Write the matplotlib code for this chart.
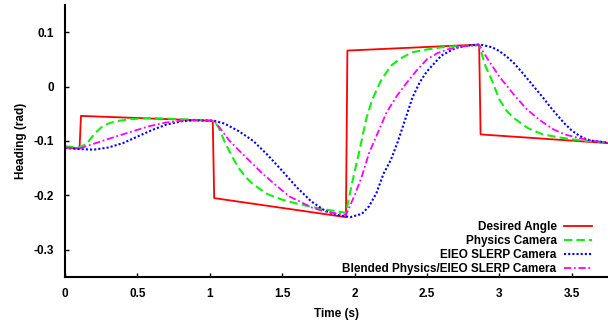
import matplotlib
matplotlib.use("Agg")
import matplotlib.pyplot as plt

# Desired angle (piecewise)
t_desired = [0, 0.1, 0.11, 1.02, 1.03, 1.94, 1.95, 2.86, 2.87, 3.75]
y_desired = [-0.112, -0.114, -0.054, -0.063, -0.205, -0.24, 0.066, 0.077, -0.088, -0.104]

# Physics camera
t_physics = [0, 0.1, 0.15, 0.2, 0.25, 0.3, 0.35, 0.45, 0.6, 0.8, 1.03, 1.06, 1.1, 1.15,
             1.2, 1.25, 1.3, 1.4, 1.5, 1.6, 1.7, 1.8, 1.94, 1.98, 2.03, 2.08, 2.12, 2.18,
             2.25, 2.32, 2.4, 2.5, 2.6, 2.7, 2.86, 2.9, 2.95, 3.0, 3.05, 3.1, 3.2, 3.3,
             3.4, 3.5, 3.6, 3.75]
y_physics = [-0.11, -0.112, -0.105, -0.088, -0.075, -0.068, -0.064, -0.06, -0.058, -0.06,
             -0.063, -0.075, -0.1, -0.127, -0.15, -0.167, -0.18, -0.198, -0.208, -0.215,
             -0.221, -0.226, -0.232, -0.18, -0.122, -0.06, -0.025, 0.01, 0.038, 0.052,
             0.063, 0.068, 0.072, 0.074, 0.076, 0.04, 0.01, -0.024, -0.045, -0.058,
             -0.077, -0.088, -0.093, -0.097, -0.1, -0.103]

# EIEO SLERP camera
t_slerp = [0, 0.1, 0.2, 0.3, 0.4, 0.5, 0.6, 0.7, 0.8, 0.9, 1.03, 1.1, 1.2, 1.3, 1.4, 1.5,
           1.6, 1.7, 1.8, 1.9, 1.97, 2.05, 2.1, 2.15, 2.2, 2.25, 2.3, 2.35, 2.4, 2.45, 2.5,
           2.6, 2.7, 2.8, 2.87, 2.95, 3.0, 3.05, 3.1, 3.15, 3.2, 3.25, 3.3, 3.35, 3.4,
           3.45, 3.5, 3.55, 3.6, 3.65, 3.75]
y_slerp = [-0.113, -0.115, -0.116, -0.112, -0.104, -0.092, -0.08, -0.07, -0.064, -0.062,
           -0.063, -0.068, -0.082, -0.1, -0.126, -0.155, -0.185, -0.211, -0.229, -0.237,
           -0.24, -0.234, -0.22, -0.196, -0.16, -0.135, -0.1, -0.06, -0.02, 0.008, 0.028,
           0.057, 0.071, 0.076, 0.077, 0.072, 0.065, 0.055, 0.043, 0.028, 0.012, -0.004,
           -0.02, -0.037, -0.053, -0.068, -0.081, -0.09, -0.097, -0.1, -0.103]

# Blended physics / EIEO SLERP camera
t_blend = [0, 0.1, 0.2, 0.35, 0.58, 0.7, 0.85, 1.03, 1.08, 1.13, 1.2, 1.36, 1.45, 1.55,
           1.71, 1.8, 1.94, 2.0, 2.05, 2.1, 2.16, 2.22, 2.29, 2.36, 2.43, 2.5, 2.57, 2.64,
           2.75, 2.86, 2.92, 3.0, 3.1, 3.19, 3.28, 3.375, 3.45, 3.54, 3.65, 3.75]
y_blend = [-0.112, -0.114, -0.105, -0.092, -0.073, -0.066, -0.062, -0.063, -0.08, -0.098,
           -0.117, -0.159, -0.18, -0.202, -0.223, -0.23, -0.236, -0.2, -0.165, -0.122,
           -0.085, -0.048, -0.018, 0.007, 0.03, 0.05, 0.061, 0.068, 0.074, 0.076, 0.05,
           0.018, -0.015, -0.042, -0.062, -0.079, -0.088, -0.094, -0.1, -0.103]

plt.rcParams["font.family"] = "Liberation Sans"
plt.rcParams["font.weight"] = "bold"
font_s = 8.5

fig = plt.figure(figsize=(6.08, 3.24), dpi=100)
ax = fig.add_axes([0.107, 0.145, 0.893, 0.84])

ax.plot(t_desired, y_desired, color="#ff0000", linewidth=1.3, label="Desired Angle")
ax.plot(t_physics, y_physics, color="#11ee11", linewidth=1.5, linestyle=(0, (4, 2)),
        label="Physics Camera")
ax.plot(t_slerp, y_slerp, color="#0000ff", linewidth=1.5, linestyle=(0, (1, 1)),
        label="EIEO SLERP Camera")
ax.plot(t_blend, y_blend, color="#ff00ff", linewidth=1.3, linestyle=(0, (4, 1.5, 1, 1.5)),
        label="Blended Physics/EIEO SLERP Camera")

ax.set_xlim(0, 3.75)
ax.set_ylim(-0.35, 0.15)
ax.set_xticks([0, 0.5, 1, 1.5, 2, 2.5, 3, 3.5])
ax.set_xticklabels(["0", "0.5", "1", "1.5", "2", "2.5", "3", "3.5"])
ax.set_yticks([-0.3, -0.2, -0.1, 0, 0.1])
ax.set_yticklabels(["-0.3", "-0.2", "-0.1", "0", "0.1"])
ax.spines["top"].set_visible(False)
ax.spines["right"].set_visible(False)
ax.spines["left"].set_linewidth(1.5)
ax.spines["bottom"].set_linewidth(1.5)
ax.tick_params(direction="in", length=3, width=1, labelsize=font_s, pad=8)
for lbl in ax.get_xticklabels() + ax.get_yticklabels():
    lbl.set_fontweight("bold")

ax.set_xlabel("Time (s)", fontsize=font_s, fontweight="bold", labelpad=6)
ax.set_ylabel("Heading (rad)", fontsize=font_s, fontweight="bold", labelpad=5)

ax.legend(loc="lower right", bbox_to_anchor=(0.99, -0.033), frameon=False,
          markerfirst=False, handlelength=2.4, labelspacing=0.18,
          handletextpad=0.6, prop={"weight": "bold", "size": font_s})

fig.savefig("out.png", dpi=100)
